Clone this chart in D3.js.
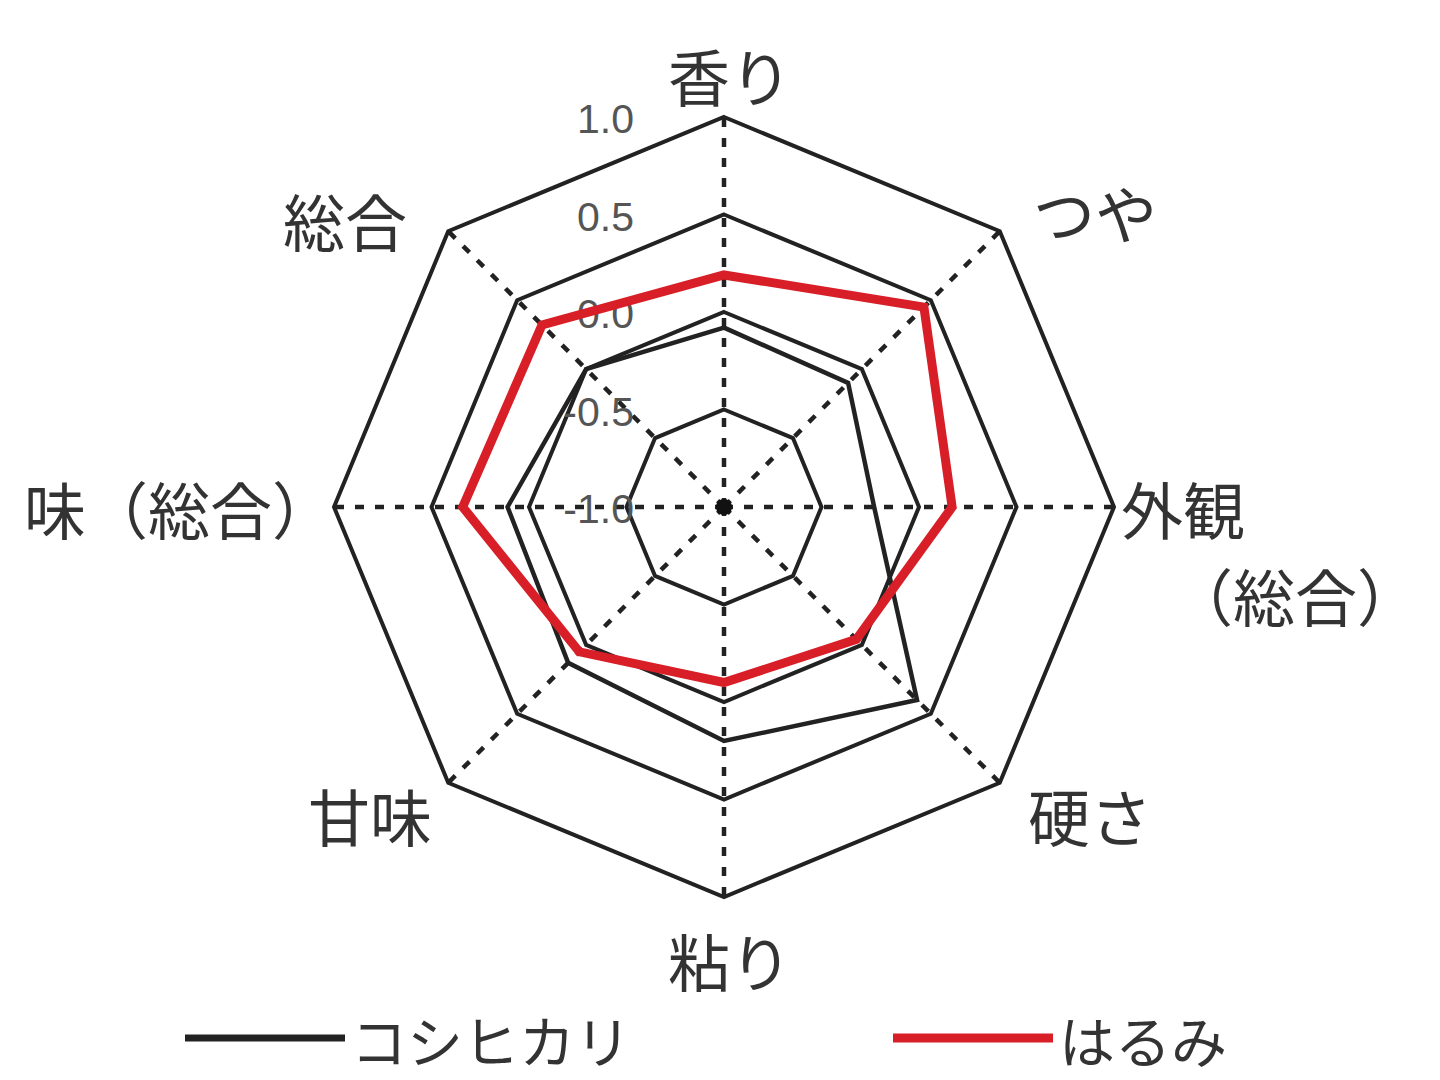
<!DOCTYPE html>
<html>
<head>
<meta charset="utf-8">
<script src="https://cdn.jsdelivr.net/npm/d3@7"></script>
<style>
  body { margin: 0; background: #fff; }
  svg { display: block; }
</style>
</head>
<body>
<svg id="chart"></svg>
<script>
// axes clockwise from the top
const axes = ["香り", "つや", "外観（総合）", "硬さ", "粘り", "甘味", "味（総合）", "総合"];
const koshihikari = [-0.08, -0.10, -0.23, 0.40, 0.20, 0.13, 0.11, 0.00];
const harumi = [0.19, 0.45, 0.17, -0.04, -0.10, 0.05, 0.34, 0.32];
const levels = [-0.5, 0, 0.5, 1.0];
const tickValues = [-1.0, -0.5, 0, 0.5, 1.0];
const tickLabels = ["-1.0", "-0.5", "0.0", "0.5", "1.0"];
const seriesNames = ["コシヒカリ", "はるみ"];

const width = 1440, height = 1080;
const cx = 724, cy = 507;
const jp = "'Noto Sans CJK JP', 'Noto Sans', sans-serif";

const svg = d3.select("#chart")
  .attr("width", width)
  .attr("height", height);

const r = d3.scaleLinear().domain([-1, 1]).range([0, 390]);
const angle = d3.scalePoint().domain(d3.range(axes.length)).range([0, 2 * Math.PI * 7 / 8]);

const g = svg.append("g").attr("transform", `translate(${cx},${cy})`);

const radar = d3.lineRadial()
  .angle((d, i) => angle(i))
  .radius(d => r(d))
  .curve(d3.curveLinearClosed);

// grid octagons
g.selectAll(".level")
  .data(levels)
  .enter()
  .append("path")
  .attr("class", "level")
  .attr("d", v => radar(axes.map(() => v)))
  .attr("fill", "none")
  .attr("stroke", "#222")
  .attr("stroke-width", 4);

// dashed spokes
g.selectAll(".spoke")
  .data(axes)
  .enter()
  .append("line")
  .attr("class", "spoke")
  .attr("x1", 0).attr("y1", 0)
  .attr("x2", (d, i) => r(1) * Math.sin(angle(i)))
  .attr("y2", (d, i) => -r(1) * Math.cos(angle(i)))
  .attr("stroke", "#222")
  .attr("stroke-width", 4.5)
  .attr("stroke-dasharray", "9,11");

g.append("circle").attr("r", 8).attr("fill", "#111");

// tick labels along the top axis
g.selectAll(".tick")
  .data(tickValues)
  .enter()
  .append("text")
  .attr("class", "tick")
  .attr("x", -90)
  .attr("y", v => -r(v) + 2)
  .attr("text-anchor", "end")
  .attr("dominant-baseline", "central")
  .attr("font-family", "'Liberation Sans', Arial, sans-serif")
  .attr("font-size", 41)
  .attr("fill", "#555")
  .text((v, i) => tickLabels[i]);

// series
const series = [
  { name: seriesNames[0], values: koshihikari, color: "#222", w: 4.5 },
  { name: seriesNames[1], values: harumi, color: "#d81e27", w: 9 }
];

g.selectAll(".series")
  .data(series)
  .enter()
  .append("path")
  .attr("class", "series")
  .attr("d", d => radar(d.values))
  .attr("fill", "none")
  .attr("stroke", d => d.color)
  .attr("stroke-width", d => d.w)
  .attr("stroke-linejoin", "miter");

// axis labels
const labelPos = [
  { x: 730, y: 75, anchor: "middle" },
  { x: 1095, y: 212, anchor: "middle" },
  { x: 1121, y: 508, anchor: "start" },
  { x: 1090, y: 815, anchor: "middle" },
  { x: 730, y: 960, anchor: "middle" },
  { x: 370, y: 815, anchor: "middle" },
  { x: 24, y: 508, anchor: "start" },
  { x: 345, y: 220, anchor: "middle" }
];

const labels = svg.selectAll(".axis-label")
  .data(axes)
  .enter()
  .append("text")
  .attr("class", "axis-label")
  .attr("x", (d, i) => labelPos[i].x)
  .attr("y", (d, i) => labelPos[i].y)
  .attr("text-anchor", (d, i) => labelPos[i].anchor)
  .attr("dominant-baseline", "central")
  .attr("font-family", jp)
  .attr("font-size", 62)
  .attr("fill", "#333");

labels.each(function(d, i) {
  const t = d3.select(this);
  if (i === 2) {
    // split 外観 / （総合） onto two lines
    t.append("tspan").text(d.slice(0, 2));
    t.append("tspan").attr("x", 1171).attr("dy", 87).text(d.slice(2));
  } else {
    t.text(d);
  }
});

// legend
const legend = svg.selectAll(".legend")
  .data(series)
  .enter()
  .append("g")
  .attr("class", "legend")
  .attr("transform", (d, i) => `translate(${i === 0 ? 185 : 893},1038)`);

legend.append("line")
  .attr("x1", 0).attr("x2", 160)
  .attr("y1", 0).attr("y2", 0)
  .attr("stroke", d => d.color)
  .attr("stroke-width", d => d.w === 9 ? 9 : 7);

legend.append("text")
  .attr("x", 166)
  .attr("y", 0)
  .attr("dominant-baseline", "central")
  .attr("font-family", jp)
  .attr("font-size", 56)
  .attr("fill", "#333")
  .text(d => d.name);
</script>
</body>
</html>
